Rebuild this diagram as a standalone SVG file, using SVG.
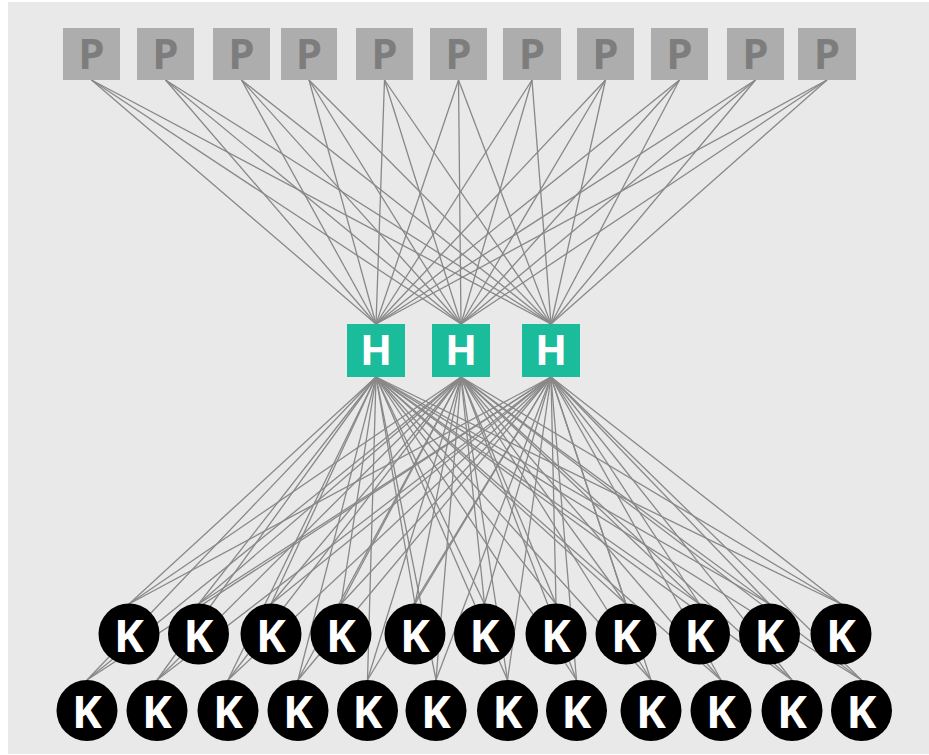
<svg xmlns="http://www.w3.org/2000/svg" width="929" height="755" viewBox="0 0 929 755">
<style>
.bg{fill:#e9e9e9}
.edge line{stroke:#888888;stroke-width:1.3}
.p rect{fill:#adadad}
.p text{fill:#7d7d7d;font-family:"Open Sans","Noto Sans",sans-serif;font-weight:bold;font-size:42px;text-anchor:middle}
.h rect{fill:#1abc9c}
.h text{fill:#ffffff;font-family:"Open Sans","Noto Sans",sans-serif;font-weight:bold;font-size:42px;text-anchor:middle}
.k circle{fill:#000000}
.k text{fill:#ffffff;font-family:"Open Sans","Noto Sans",sans-serif;font-weight:bold;font-size:45px;text-anchor:middle}
</style>
<rect class="bg" x="8" y="2" width="921" height="752"/>
<g id="connectors" class="edge">
<line x1="91.5" y1="80" x2="376" y2="324"/><line x1="91.5" y1="80" x2="461" y2="324"/><line x1="91.5" y1="80" x2="551" y2="324"/>
<line x1="165.5" y1="80" x2="376" y2="324"/><line x1="165.5" y1="80" x2="461" y2="324"/><line x1="165.5" y1="80" x2="551" y2="324"/>
<line x1="241.5" y1="80" x2="376" y2="324"/><line x1="241.5" y1="80" x2="461" y2="324"/><line x1="241.5" y1="80" x2="551" y2="324"/>
<line x1="309" y1="80" x2="376" y2="324"/><line x1="309" y1="80" x2="461" y2="324"/><line x1="309" y1="80" x2="551" y2="324"/>
<line x1="384.5" y1="80" x2="376" y2="324"/><line x1="384.5" y1="80" x2="461" y2="324"/><line x1="384.5" y1="80" x2="551" y2="324"/>
<line x1="458.5" y1="80" x2="376" y2="324"/><line x1="458.5" y1="80" x2="461" y2="324"/><line x1="458.5" y1="80" x2="551" y2="324"/>
<line x1="532" y1="80" x2="376" y2="324"/><line x1="532" y1="80" x2="461" y2="324"/><line x1="532" y1="80" x2="551" y2="324"/>
<line x1="605.5" y1="80" x2="376" y2="324"/><line x1="605.5" y1="80" x2="461" y2="324"/><line x1="605.5" y1="80" x2="551" y2="324"/>
<line x1="679.5" y1="80" x2="376" y2="324"/><line x1="679.5" y1="80" x2="461" y2="324"/><line x1="679.5" y1="80" x2="551" y2="324"/>
<line x1="755.5" y1="80" x2="376" y2="324"/><line x1="755.5" y1="80" x2="461" y2="324"/><line x1="755.5" y1="80" x2="551" y2="324"/>
<line x1="827" y1="80" x2="376" y2="324"/><line x1="827" y1="80" x2="461" y2="324"/><line x1="827" y1="80" x2="551" y2="324"/>

<line x1="376" y1="377" x2="129" y2="604"/><line x1="376" y1="377" x2="198.5" y2="604"/><line x1="376" y1="377" x2="271" y2="604"/><line x1="376" y1="377" x2="341" y2="604"/><line x1="376" y1="377" x2="415" y2="604"/><line x1="376" y1="377" x2="484.5" y2="604"/><line x1="376" y1="377" x2="556" y2="604"/><line x1="376" y1="377" x2="626" y2="604"/><line x1="376" y1="377" x2="699.5" y2="604"/><line x1="376" y1="377" x2="769.5" y2="604"/><line x1="376" y1="377" x2="841" y2="604"/>
<line x1="376" y1="377" x2="87" y2="680"/><line x1="376" y1="377" x2="157" y2="680"/><line x1="376" y1="377" x2="228" y2="680"/><line x1="376" y1="377" x2="298" y2="680"/><line x1="376" y1="377" x2="367.5" y2="680"/><line x1="376" y1="377" x2="436" y2="680"/><line x1="376" y1="377" x2="507.5" y2="680"/><line x1="376" y1="377" x2="576.5" y2="680"/><line x1="376" y1="377" x2="651" y2="680"/><line x1="376" y1="377" x2="721" y2="680"/><line x1="376" y1="377" x2="792" y2="680"/><line x1="376" y1="377" x2="861.5" y2="680"/>

<line x1="461" y1="377" x2="129" y2="604"/><line x1="461" y1="377" x2="198.5" y2="604"/><line x1="461" y1="377" x2="271" y2="604"/><line x1="461" y1="377" x2="341" y2="604"/><line x1="461" y1="377" x2="415" y2="604"/><line x1="461" y1="377" x2="484.5" y2="604"/><line x1="461" y1="377" x2="556" y2="604"/><line x1="461" y1="377" x2="626" y2="604"/><line x1="461" y1="377" x2="699.5" y2="604"/><line x1="461" y1="377" x2="769.5" y2="604"/><line x1="461" y1="377" x2="841" y2="604"/>
<line x1="461" y1="377" x2="87" y2="680"/><line x1="461" y1="377" x2="157" y2="680"/><line x1="461" y1="377" x2="228" y2="680"/><line x1="461" y1="377" x2="298" y2="680"/><line x1="461" y1="377" x2="367.5" y2="680"/><line x1="461" y1="377" x2="436" y2="680"/><line x1="461" y1="377" x2="507.5" y2="680"/><line x1="461" y1="377" x2="576.5" y2="680"/><line x1="461" y1="377" x2="651" y2="680"/><line x1="461" y1="377" x2="721" y2="680"/><line x1="461" y1="377" x2="792" y2="680"/><line x1="461" y1="377" x2="861.5" y2="680"/>

<line x1="551" y1="377" x2="129" y2="604"/><line x1="551" y1="377" x2="198.5" y2="604"/><line x1="551" y1="377" x2="271" y2="604"/><line x1="551" y1="377" x2="341" y2="604"/><line x1="551" y1="377" x2="415" y2="604"/><line x1="551" y1="377" x2="484.5" y2="604"/><line x1="551" y1="377" x2="556" y2="604"/><line x1="551" y1="377" x2="626" y2="604"/><line x1="551" y1="377" x2="699.5" y2="604"/><line x1="551" y1="377" x2="769.5" y2="604"/><line x1="551" y1="377" x2="841" y2="604"/>
<line x1="551" y1="377" x2="87" y2="680"/><line x1="551" y1="377" x2="157" y2="680"/><line x1="551" y1="377" x2="228" y2="680"/><line x1="551" y1="377" x2="298" y2="680"/><line x1="551" y1="377" x2="367.5" y2="680"/><line x1="551" y1="377" x2="436" y2="680"/><line x1="551" y1="377" x2="507.5" y2="680"/><line x1="551" y1="377" x2="576.5" y2="680"/><line x1="551" y1="377" x2="651" y2="680"/><line x1="551" y1="377" x2="721" y2="680"/><line x1="551" y1="377" x2="792" y2="680"/><line x1="551" y1="377" x2="861.5" y2="680"/>
</g>

<g id="p1" class="p"><rect x="63" y="28" width="57" height="52"/><text x="91.5" y="69">P</text></g>
<g id="p2" class="p"><rect x="137" y="28" width="57" height="52"/><text x="165.5" y="69">P</text></g>
<g id="p3" class="p"><rect x="213" y="28" width="57" height="52"/><text x="241.5" y="69">P</text></g>
<g id="p4" class="p"><rect x="281" y="28" width="56" height="52"/><text x="309" y="69">P</text></g>
<g id="p5" class="p"><rect x="356" y="28" width="57" height="52"/><text x="384.5" y="69">P</text></g>
<g id="p6" class="p"><rect x="430" y="28" width="57" height="52"/><text x="458.5" y="69">P</text></g>
<g id="p7" class="p"><rect x="503" y="28" width="58" height="52"/><text x="532" y="69">P</text></g>
<g id="p8" class="p"><rect x="577" y="28" width="57" height="52"/><text x="605.5" y="69">P</text></g>
<g id="p9" class="p"><rect x="651" y="28" width="57" height="52"/><text x="679.5" y="69">P</text></g>
<g id="p10" class="p"><rect x="727" y="28" width="57" height="52"/><text x="755.5" y="69">P</text></g>
<g id="p11" class="p"><rect x="798" y="28" width="58" height="52"/><text x="827" y="69">P</text></g>

<g id="h1" class="h"><rect x="347" y="324" width="58" height="53"/><text x="376" y="365">H</text></g>
<g id="h2" class="h"><rect x="432" y="324" width="58" height="53"/><text x="461" y="365">H</text></g>
<g id="h3" class="h"><rect x="522" y="324" width="58" height="53"/><text x="551" y="365">H</text></g>

<g id="k1" class="k"><circle cx="129" cy="634" r="30.5"/><text x="129" y="652">K</text></g>
<g id="k2" class="k"><circle cx="198.5" cy="634" r="30.5"/><text x="198.5" y="652">K</text></g>
<g id="k3" class="k"><circle cx="271" cy="634" r="30.5"/><text x="271" y="652">K</text></g>
<g id="k4" class="k"><circle cx="341" cy="634" r="30.5"/><text x="341" y="652">K</text></g>
<g id="k5" class="k"><circle cx="415" cy="634" r="30.5"/><text x="415" y="652">K</text></g>
<g id="k6" class="k"><circle cx="484.5" cy="634" r="30.5"/><text x="484.5" y="652">K</text></g>
<g id="k7" class="k"><circle cx="556" cy="634" r="30.5"/><text x="556" y="652">K</text></g>
<g id="k8" class="k"><circle cx="626" cy="634" r="30.5"/><text x="626" y="652">K</text></g>
<g id="k9" class="k"><circle cx="699.5" cy="634" r="30.5"/><text x="699.5" y="652">K</text></g>
<g id="k10" class="k"><circle cx="769.5" cy="634" r="30.5"/><text x="769.5" y="652">K</text></g>
<g id="k11" class="k"><circle cx="841" cy="634" r="30.5"/><text x="841" y="652">K</text></g>

<g id="k12" class="k"><circle cx="87" cy="710.5" r="30.5"/><text x="87" y="728">K</text></g>
<g id="k13" class="k"><circle cx="157" cy="710.5" r="30.5"/><text x="157" y="728">K</text></g>
<g id="k14" class="k"><circle cx="228" cy="710.5" r="30.5"/><text x="228" y="728">K</text></g>
<g id="k15" class="k"><circle cx="298" cy="710.5" r="30.5"/><text x="298" y="728">K</text></g>
<g id="k16" class="k"><circle cx="367.5" cy="710.5" r="30.5"/><text x="367.5" y="728">K</text></g>
<g id="k17" class="k"><circle cx="436" cy="710.5" r="30.5"/><text x="436" y="728">K</text></g>
<g id="k18" class="k"><circle cx="507.5" cy="710.5" r="30.5"/><text x="507.5" y="728">K</text></g>
<g id="k19" class="k"><circle cx="576.5" cy="710.5" r="30.5"/><text x="576.5" y="728">K</text></g>
<g id="k20" class="k"><circle cx="651" cy="710.5" r="30.5"/><text x="651" y="728">K</text></g>
<g id="k21" class="k"><circle cx="721" cy="710.5" r="30.5"/><text x="721" y="728">K</text></g>
<g id="k22" class="k"><circle cx="792" cy="710.5" r="30.5"/><text x="792" y="728">K</text></g>
<g id="k23" class="k"><circle cx="861.5" cy="710.5" r="30.5"/><text x="861.5" y="728">K</text></g>
</svg>
